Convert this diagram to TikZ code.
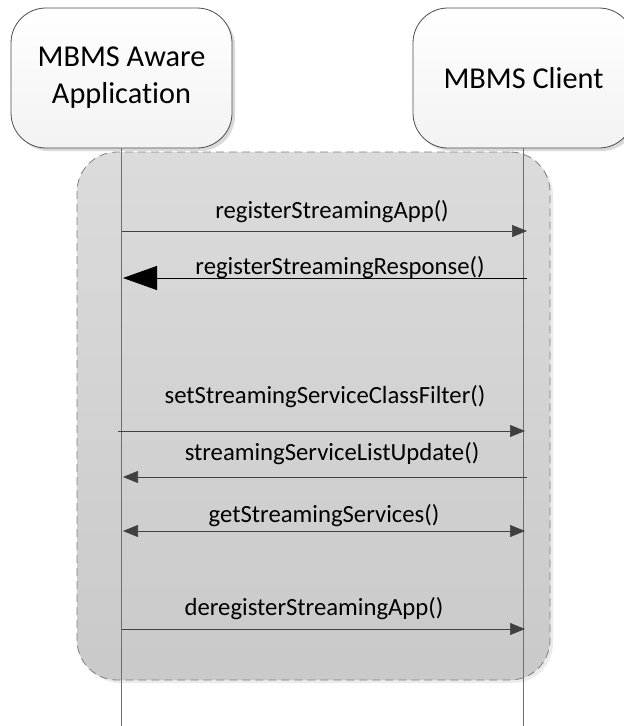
\documentclass[tikz,border=0pt]{standalone}
\usepackage{fontspec}
\setmainfont[Ligatures=NoCommon]{Carlito}
\usetikzlibrary{arrows.meta,shadows}
\definecolor{linegray}{HTML}{404040}
\definecolor{lifegray}{HTML}{6E6E6E}
\definecolor{framegray}{HTML}{7F7F7F}
\begin{document}
\begin{tikzpicture}[x=1pt,y=-1pt,
  lifebox/.style={draw=black!70, line width=0.8pt, rounded corners=35pt,
    minimum width=221pt, minimum height=140pt, top color=white, bottom color=black!5,
    align=center, font=\fontsize{30.3}{37}\selectfont,
    drop shadow={shadow xshift=3pt,shadow yshift=-3pt,fill=black!15,opacity=1}},
  framebox/.style={draw=framegray, line width=0.8pt, dash pattern=on 8pt off 5pt,
    rounded corners=40pt, minimum width=473pt, minimum height=528pt,
    top color=black!14, bottom color=black!21,
    drop shadow={shadow xshift=3pt,shadow yshift=-3pt,fill=black!8,opacity=1}},
  lifeline/.style={draw=lifegray, line width=0.7pt},
  msg/.style={draw=linegray, line width=0.7pt, -{Triangle[length=15pt,width=12pt]}},
  msgboth/.style={draw=linegray, line width=0.7pt, {Triangle[length=15pt,width=12pt]}-{Triangle[length=15pt,width=12pt]}},
  bigmsg/.style={draw=black, line width=1pt, -{Triangle[length=34pt,width=24pt]}},
  lbl/.style={font=\fontsize{24.7}{28}\selectfont, anchor=base, inner sep=0pt}
]
\useasboundingbox (0,0) rectangle (624,726);
% frame
\node[framebox] (F) at (313.5,416) {};
% participants
\node[lifebox] (A) at (121.5,78) {MBMS Aware\\Application};
\node[lifebox] (C) at (523.5,78) {MBMS Client};
% lifeline ends
\coordinate (Aend) at (121.5,726);
\coordinate (Cend) at (523.5,726);
\draw[lifeline] (A.south) -- (Aend);
\draw[lifeline] (C.south) -- (Cend);
% message end points
\coordinate (a1) at (122,231); \coordinate (c1) at (527,231);
\coordinate (a2) at (123,278); \coordinate (c2) at (527,278);
\coordinate (a3) at (118,431); \coordinate (c3) at (525,431);
\coordinate (a4) at (123,477); \coordinate (c4) at (527,477);
\coordinate (a5) at (123,531); \coordinate (c5) at (525,531);
\coordinate (a6) at (122,629); \coordinate (c6) at (525,629);
\draw[msg] (a1) -- (c1);
\draw[bigmsg] (c2) -- (a2);
\draw[msg] (a3) -- (c3);
\draw[msg] (c4) -- (a4);
\draw[msgboth] (a5) -- (c5);
\draw[msg] (a6) -- (c6);
% labels
\node[lbl] (l1) at (332,218) {registerStreamingApp()};
\node[lbl] (l2) at (340,274) {registerStreamingResponse()};
\node[lbl] (l3) at (325,403) {setStreamingServiceClassFilter()};
\node[lbl] (l4) at (332,460) {streamingServiceListUpdate()};
\node[lbl] (l5) at (324,522) {getStreamingServices()};
\node[lbl] (l6) at (314,615) {deregisterStreamingApp()};
\end{tikzpicture}
\end{document}
